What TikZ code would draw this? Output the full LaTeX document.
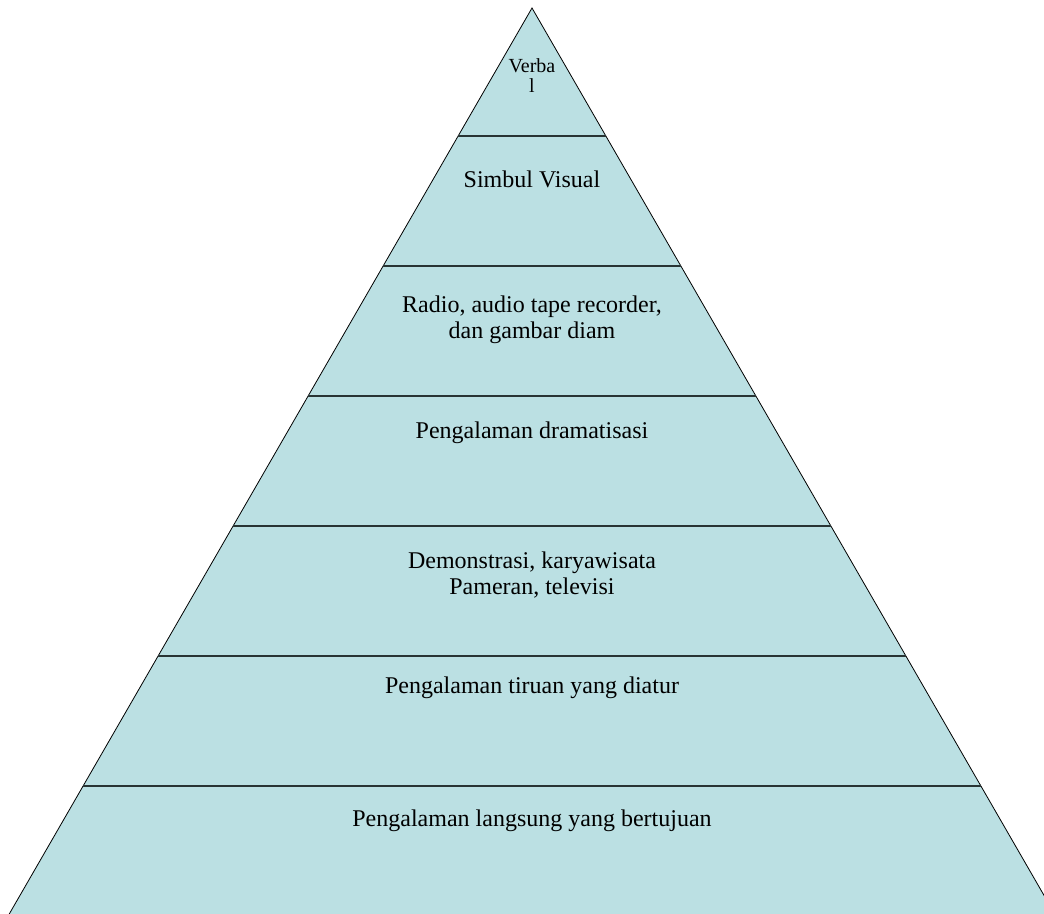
\documentclass[tikz,border=0pt]{standalone}
\usepackage{fontspec}
\setmainfont{Liberation Serif}
\definecolor{pyramidblue}{RGB}{187,224,227}
\definecolor{darkline}{RGB}{40,52,52}
\begin{document}
\begin{tikzpicture}[x=1pt,y=-1pt]
  \def\s{0.577}
  \tikzset{level/.style={font=\fontsize{24}{26}\selectfont,anchor=base,align=center,inner sep=0pt}}
  \tikzset{divider/.style={draw=darkline,line width=1.8pt}}
  \useasboundingbox (0,0) rectangle (1044,913);
  \clip (0,0) rectangle (1044,913);
  \coordinate (apex) at (532,8);
  \coordinate (baseL) at ({532-\s*1000},1008);
  \coordinate (baseR) at ({532+\s*1000},1008);
  \draw[fill=pyramidblue,line width=0.8pt] (apex) -- (baseL) -- (baseR) -- cycle;
  \foreach \y in {136,266,396,526,656,786}
    \draw[divider] ({532-\s*(\y-8)},\y) -- ({532+\s*(\y-8)},\y);
  % multi-line nodes sit on the baseline of their last line
  \node[level,font=\fontsize{20}{20}\selectfont] (verbal) at (532,92) {Verba\\l};
  \node[level] (simbul) at (532,187) {Simbul Visual};
  \node[level] (radio) at (532,338) {Radio, audio tape recorder,\\dan gambar diam};
  \node[level] (drama) at (532,438) {Pengalaman dramatisasi};
  \node[level] (demo) at (532,594) {Demonstrasi, karyawisata\\Pameran, televisi};
  \node[level] (tiruan) at (532,693) {Pengalaman tiruan yang diatur};
  \node[level] (langsung) at (532,826) {Pengalaman langsung yang bertujuan};
\end{tikzpicture}
\end{document}
